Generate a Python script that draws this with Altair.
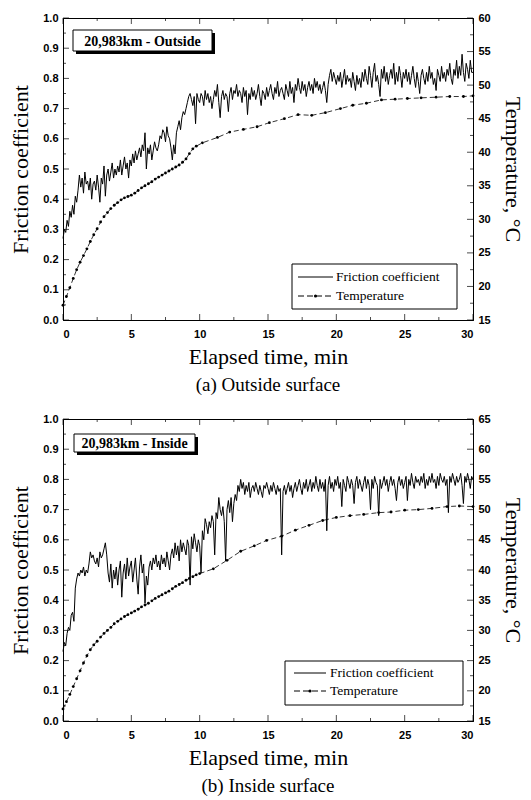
import altair as alt
import pandas as pd

# ---------------- data ----------------
# friction coefficient sampled every 0.1 min (0 .. 30 min)
outside_friction = [
    0.27, 0.30, 0.29, 0.33, 0.31, 0.36, 0.34, 0.38, 0.35, 0.41,
    0.39, 0.43, 0.48, 0.44, 0.47, 0.42, 0.49, 0.45, 0.46, 0.43,
    0.47, 0.40, 0.45, 0.46, 0.43, 0.48, 0.44, 0.39, 0.47, 0.45,
    0.51, 0.41, 0.48, 0.50, 0.46, 0.49, 0.52, 0.47, 0.50, 0.48,
    0.51, 0.49, 0.53, 0.48, 0.51, 0.54, 0.50, 0.52, 0.47, 0.53,
    0.51, 0.55, 0.52, 0.56, 0.53, 0.55, 0.57, 0.54, 0.58, 0.56,
    0.62, 0.50, 0.57, 0.55, 0.58, 0.53, 0.56, 0.59, 0.57, 0.56,
    0.58, 0.61, 0.60, 0.63, 0.62, 0.59, 0.64, 0.61, 0.60, 0.57,
    0.53, 0.58, 0.55, 0.62, 0.64, 0.66, 0.63, 0.67, 0.69, 0.68,
    0.70, 0.72, 0.74, 0.75, 0.73, 0.71, 0.74, 0.65, 0.75, 0.73,
    0.72, 0.75, 0.74, 0.71, 0.76, 0.73, 0.75, 0.72, 0.74, 0.70,
    0.73, 0.76, 0.74, 0.78, 0.72, 0.67, 0.74, 0.76, 0.73, 0.75,
    0.74, 0.69, 0.75, 0.77, 0.73, 0.76, 0.75, 0.78, 0.74, 0.76,
    0.75, 0.72, 0.77, 0.74, 0.76, 0.68, 0.75, 0.73, 0.77, 0.74,
    0.76, 0.73, 0.75, 0.78, 0.74, 0.71, 0.76, 0.75, 0.73, 0.77,
    0.74, 0.76, 0.78, 0.75, 0.73, 0.77, 0.75, 0.79, 0.74, 0.76,
    0.77, 0.75, 0.73, 0.78, 0.76, 0.74, 0.79, 0.75, 0.77, 0.72,
    0.78, 0.76, 0.80, 0.77, 0.75, 0.79, 0.76, 0.78, 0.74, 0.77,
    0.79, 0.76, 0.78, 0.75, 0.80, 0.77, 0.79, 0.76, 0.78, 0.75,
    0.77, 0.79, 0.76, 0.72, 0.78, 0.81, 0.83, 0.79, 0.82, 0.80,
    0.78, 0.81, 0.79, 0.82, 0.77, 0.80, 0.83, 0.78, 0.81, 0.79,
    0.80, 0.77, 0.82, 0.79, 0.76, 0.81, 0.78, 0.80, 0.77, 0.82,
    0.79, 0.83, 0.80, 0.78, 0.84, 0.81, 0.77, 0.82, 0.85, 0.79,
    0.81, 0.78, 0.74, 0.83, 0.80, 0.84, 0.79, 0.82, 0.78, 0.81,
    0.83, 0.80, 0.85, 0.78, 0.82, 0.79, 0.84, 0.81, 0.77, 0.82,
    0.80, 0.83, 0.79, 0.82, 0.78, 0.81, 0.84, 0.80, 0.77, 0.82,
    0.79, 0.75, 0.81, 0.83, 0.80, 0.78, 0.82, 0.79, 0.84, 0.80,
    0.82, 0.78, 0.80, 0.76, 0.83, 0.81, 0.79, 0.84, 0.80, 0.82,
    0.79, 0.83, 0.81, 0.85, 0.80, 0.78, 0.83, 0.81, 0.86, 0.80,
    0.84, 0.81, 0.88, 0.82, 0.79, 0.85, 0.83, 0.80, 0.86, 0.82,
    0.82,
]

inside_friction = [
    0.23, 0.26, 0.25, 0.29, 0.31, 0.30, 0.35, 0.36, 0.33, 0.44,
    0.47, 0.49, 0.48, 0.50, 0.49, 0.51, 0.48, 0.50, 0.49, 0.52,
    0.56, 0.54, 0.55, 0.53, 0.52, 0.54, 0.51, 0.56, 0.54, 0.55,
    0.57, 0.59, 0.55, 0.49, 0.46, 0.52, 0.44, 0.50, 0.47, 0.51,
    0.45, 0.50, 0.53, 0.41, 0.49, 0.52, 0.47, 0.54, 0.48, 0.51,
    0.53, 0.46, 0.50, 0.54, 0.47, 0.42, 0.51, 0.55, 0.49, 0.52,
    0.39, 0.48, 0.45, 0.51, 0.53, 0.50, 0.54, 0.52, 0.55, 0.51,
    0.53, 0.50, 0.55, 0.52, 0.54, 0.51, 0.56, 0.53, 0.50, 0.55,
    0.57, 0.54, 0.59, 0.55, 0.58, 0.53, 0.60, 0.56, 0.59, 0.57,
    0.55, 0.60, 0.58, 0.45, 0.61, 0.57, 0.62, 0.59, 0.56, 0.60,
    0.58, 0.49, 0.63, 0.60, 0.67, 0.65, 0.62, 0.66, 0.64, 0.68,
    0.66, 0.55, 0.69, 0.67, 0.74, 0.70, 0.68, 0.71, 0.66, 0.53,
    0.70, 0.73, 0.69, 0.74, 0.66, 0.72, 0.75, 0.73, 0.78, 0.76,
    0.80, 0.77, 0.79, 0.75, 0.78, 0.76, 0.79, 0.74, 0.77, 0.78,
    0.76, 0.79, 0.77, 0.75, 0.78, 0.76, 0.74, 0.78, 0.77, 0.79,
    0.77, 0.75, 0.78, 0.76, 0.79, 0.77, 0.75, 0.78, 0.76, 0.77,
    0.55, 0.76, 0.78, 0.75, 0.77, 0.79, 0.76, 0.78, 0.74, 0.77,
    0.79, 0.76, 0.78, 0.80, 0.77, 0.75, 0.79, 0.77, 0.80, 0.76,
    0.78, 0.80, 0.76, 0.79, 0.77, 0.81, 0.78, 0.76, 0.80, 0.77,
    0.79, 0.76, 0.80, 0.63, 0.78, 0.81, 0.77, 0.79, 0.76, 0.80,
    0.78, 0.81, 0.77, 0.79, 0.71, 0.80, 0.78, 0.76, 0.81, 0.79,
    0.77, 0.80, 0.78, 0.72, 0.79, 0.81, 0.77, 0.80, 0.78, 0.76,
    0.79, 0.81, 0.77, 0.80, 0.78, 0.70, 0.80, 0.77, 0.81, 0.79,
    0.78, 0.68, 0.80, 0.77, 0.79, 0.81, 0.78, 0.80, 0.76, 0.79,
    0.81, 0.78, 0.80, 0.77, 0.73, 0.79, 0.81, 0.78, 0.80, 0.77,
    0.79, 0.81, 0.73, 0.80, 0.78, 0.82, 0.79, 0.77, 0.81, 0.79,
    0.80, 0.78, 0.81, 0.79, 0.82, 0.77, 0.80, 0.78, 0.81, 0.79,
    0.82, 0.79, 0.80, 0.77, 0.81, 0.78, 0.82, 0.80, 0.79, 0.81,
    0.78, 0.80, 0.69, 0.81, 0.79, 0.82, 0.80, 0.78, 0.81, 0.79,
    0.80, 0.82, 0.78, 0.72, 0.81, 0.79, 0.82, 0.80, 0.77, 0.81,
    0.80,
]
friction_time = [i / 10 for i in range(len(outside_friction))]

outside_temp_time = [
    0, 0.25, 0.5, 0.75, 1.0, 1.25, 1.5, 1.75, 2.0, 2.25, 2.5, 2.75, 3.0, 3.25,
    3.5, 3.75, 4.0, 4.25, 4.5, 4.75, 5.0, 5.25, 5.5, 5.75, 6.0, 6.25, 6.5, 6.75,
    7.0, 7.25, 7.5, 7.75, 8.0, 8.25, 8.5, 8.75, 9.0, 9.25, 9.5, 9.75, 10.2, 11.3,
    12.2, 13.2, 14.2, 15.1, 16.2, 17.2, 18.2, 19.2, 20.3, 21.2, 22.2, 23.3, 24.3,
    25.2, 26.2, 27.3, 28.3, 29.3, 30.0,
]
outside_temp = [
    17.2, 18.5, 19.8, 21.2, 22.5, 23.6, 24.6, 25.6, 26.7, 27.7, 28.6, 29.6, 30.4, 31.0,
    31.6, 32.1, 32.5, 32.9, 33.2, 33.4, 33.6, 33.9, 34.3, 34.7, 35.0, 35.3, 35.6, 36.0,
    36.3, 36.6, 36.9, 37.2, 37.5, 37.8, 38.1, 38.5, 39.0, 39.8, 40.5, 40.9, 41.4, 42.2,
    43.0, 43.4, 43.8, 44.4, 45.0, 45.6, 45.5, 45.9, 46.5, 47.0, 47.3, 47.8, 47.9,
    48.0, 48.1, 48.2, 48.3, 48.3, 48.4,
]

inside_temp_time = [
    0, 0.25, 0.5, 0.75, 1.0, 1.25, 1.5, 1.75, 2.0, 2.25, 2.5, 2.75, 3.0, 3.25,
    3.5, 3.75, 4.0, 4.25, 4.5, 4.75, 5.0, 5.25, 5.5, 5.75, 6.0, 6.25, 6.5, 6.75,
    7.0, 7.25, 7.5, 7.75, 8.0, 8.25, 8.5, 8.75, 9.0, 9.25, 9.5, 9.75, 10.0, 11.0,
    12.0, 13.0, 14.0, 14.9, 16.0, 17.0, 18.0, 19.0, 20.0, 21.0, 22.0, 23.1, 24.0,
    25.0, 26.0, 27.0, 28.1, 29.0, 30.0,
]
inside_temp = [
    17.0, 18.2, 19.4, 20.7, 22.0, 23.3, 24.6, 25.8, 26.8, 27.6, 28.2, 28.9, 29.5, 30.0,
    30.5, 31.1, 31.5, 31.9, 32.3, 32.6, 32.9, 33.2, 33.5, 33.9, 34.2, 34.5, 34.9, 35.3,
    35.6, 35.9, 36.2, 36.5, 36.9, 37.3, 37.6, 37.9, 38.3, 38.6, 38.9, 39.2, 39.4, 40.2,
    41.6, 43.1, 44.0, 44.9, 45.6, 46.6, 47.4, 48.2, 48.7, 49.0, 49.2, 49.5, 49.6,
    49.9, 50.0, 50.2, 50.5, 50.6, 50.5,
]

x_major = [0, 5, 10, 15, 20, 25, 30]
x_minor = [2.5, 7.5, 12.5, 17.5, 22.5, 27.5]
f_major = [0.0, 0.1, 0.2, 0.3, 0.4, 0.5, 0.6, 0.7, 0.8, 0.9, 1.0]
f_minor = [0.05, 0.15, 0.25, 0.35, 0.45, 0.55, 0.65, 0.75, 0.85, 0.95]
series_names = ["Friction coefficient", "Temperature"]

W, H = 410, 302
SERIF = "Times New Roman, Liberation Serif, DejaVu Serif, serif"
SANS = "Arial, Liberation Sans, DejaVu Sans, sans-serif"

XSCALE = alt.Scale(domain=[0, 30], nice=False)
XAXIS = alt.Axis(values=x_major, format="d", ticks=False, grid=False,
                 title="Elapsed time, min", labelPadding=8, titlePadding=7)


def tick_layer(values, scale, axis_ch, pos, size):
    df = pd.DataFrame({"v": values})
    if axis_ch == "x":
        return alt.Chart(df).mark_tick(color="black", size=size, thickness=1, orient="vertical").encode(
            x=alt.X("v:Q", scale=scale, axis=XAXIS), y=alt.value(pos))
    return alt.Chart(df).mark_tick(color="black", size=size, thickness=1, orient="horizontal").encode(
        y=alt.Y("v:Q", scale=scale, axis=None), x=alt.value(pos))


def legend_layers(box, rows_y, line_x, text_x):
    x0, y0, x1, y1 = box
    one = pd.DataFrame({"k": [0]})
    frame = alt.Chart(one).mark_rect(fill="white", stroke="black", strokeWidth=1).encode(
        x=alt.value(x0), x2=alt.value(x1), y=alt.value(y0), y2=alt.value(y1))
    lx0, lx1 = line_x
    fr_line = alt.Chart(one).mark_rule(color="black", strokeWidth=1).encode(
        x=alt.value(lx0), x2=alt.value(lx1), y=alt.value(rows_y[0]))
    tp_line = alt.Chart(one).mark_rule(color="black", strokeWidth=1, strokeDash=[6, 3]).encode(
        x=alt.value(lx0), x2=alt.value(lx1), y=alt.value(rows_y[1]))
    tp_dot = alt.Chart(one).mark_circle(color="black", size=10, opacity=1).encode(
        x=alt.value((lx0 + lx1) / 2), y=alt.value(rows_y[1]))
    names = pd.DataFrame({"name": series_names})
    t0 = alt.Chart(names.iloc[[0]]).mark_text(
        font=SERIF, fontSize=13.5, color="black", align="left", baseline="middle").encode(
        x=alt.value(text_x), y=alt.value(rows_y[0]), text="name:N")
    t1 = alt.Chart(names.iloc[[1]]).mark_text(
        font=SERIF, fontSize=13.5, color="black", align="left", baseline="middle").encode(
        x=alt.value(text_x), y=alt.value(rows_y[1]), text="name:N")
    return [frame, fr_line, tp_line, tp_dot, t0, t1]


def panel(fric, ttime, temp, tmax, label, box, leg, caption):
    fscale = alt.Scale(domain=[0, 1], nice=False)
    tscale = alt.Scale(domain=[15, tmax], nice=False)
    t_major = list(range(15, tmax + 1, 5))
    t_minor = [v + 2.5 for v in t_major[:-1]]

    fdf = pd.DataFrame({"t": friction_time, "f": fric})
    tdf = pd.DataFrame({"t": ttime, "T": temp})

    fric_line = alt.Chart(fdf).mark_line(color="black", strokeWidth=1).encode(
        x=alt.X("t:Q", scale=XSCALE, axis=XAXIS),
        y=alt.Y("f:Q", scale=fscale, axis=alt.Axis(
            orient="left", values=f_major, format=".1f", ticks=False, grid=False,
            title="Friction coefficient", labelPadding=5, titlePadding=10)),
    )

    temp_base = alt.Chart(tdf).encode(
        x=alt.X("t:Q", scale=XSCALE, axis=XAXIS),
        y=alt.Y("T:Q", scale=tscale, axis=alt.Axis(
            orient="right", values=t_major, format="d", ticks=False, grid=False,
            title="Temperature, °C", labelPadding=5, titlePadding=10)),
    )
    temp_line = temp_base.mark_line(color="black", strokeWidth=0.8, strokeDash=[5, 3])
    temp_pts = temp_base.mark_circle(color="black", size=8, opacity=1)
    temp_group = alt.layer(temp_line, temp_pts)

    ticks = [
        tick_layer(x_major, XSCALE, "x", H - 3, 6),
        tick_layer(x_minor, XSCALE, "x", H - 1.5, 3),
        tick_layer(x_major, XSCALE, "x", 3, 6),
        tick_layer(x_minor, XSCALE, "x", 1.5, 3),
        tick_layer(f_major, fscale, "y", 3, 6),
        tick_layer(f_minor, fscale, "y", 1.5, 3),
        tick_layer(t_major, tscale, "y", W - 3, 6),
        tick_layer(t_minor, tscale, "y", W - 1.5, 3),
    ]

    x0, y0, x1, y1 = box
    ann = pd.DataFrame({"label": [label]})
    shadow = alt.Chart(ann).mark_rect(color="black").encode(
        x=alt.value(x0 + 3), x2=alt.value(x1 + 3), y=alt.value(y0 + 3), y2=alt.value(y1 + 3))
    frame = alt.Chart(ann).mark_rect(fill="white", stroke="black", strokeWidth=1).encode(
        x=alt.value(x0), x2=alt.value(x1), y=alt.value(y0), y2=alt.value(y1))
    text = alt.Chart(ann).mark_text(font=SERIF, fontSize=14, fontWeight="bold", color="black").encode(
        x=alt.value((x0 + x1) / 2), y=alt.value((y0 + y1) / 2 + 1), text="label:N")

    return alt.layer(fric_line, temp_group, *ticks, shadow, frame, text,
                     *legend_layers(*leg)).resolve_scale(y="independent").properties(
        width=W, height=H,
        title=alt.TitleParams(caption, orient="bottom", font=SERIF, fontSize=19,
                              fontWeight="normal", color="black", offset=9),
    )


top = panel(outside_friction, outside_temp_time, outside_temp, 60,
            "20,983km - Outside", (10, 12, 149, 33),
            ((229, 246, 394, 291), (259, 278), (235, 270), 273),
            "(a) Outside surface")
bottom = panel(inside_friction, inside_temp_time, inside_temp, 65,
               "20,983km - Inside", (11, 15, 132, 33),
               ((222, 242, 400, 286), (254, 272), (231, 263), 267),
               "(b) Inside surface")

chart = alt.vconcat(top, bottom, spacing=16).properties(
    padding={"left": 9, "top": 11, "right": 5, "bottom": 5}, background="white"
).configure_axis(
    labelFont=SANS, labelFontWeight="bold", labelFontSize=11, labelColor="black",
    titleFont=SERIF, titleFontSize=22, titleFontWeight="normal", titleColor="black",
    domainColor="black",
).configure_view(stroke="black", strokeWidth=1)

chart.save("out.html", embed_options={"renderer": "svg", "actions": False})
